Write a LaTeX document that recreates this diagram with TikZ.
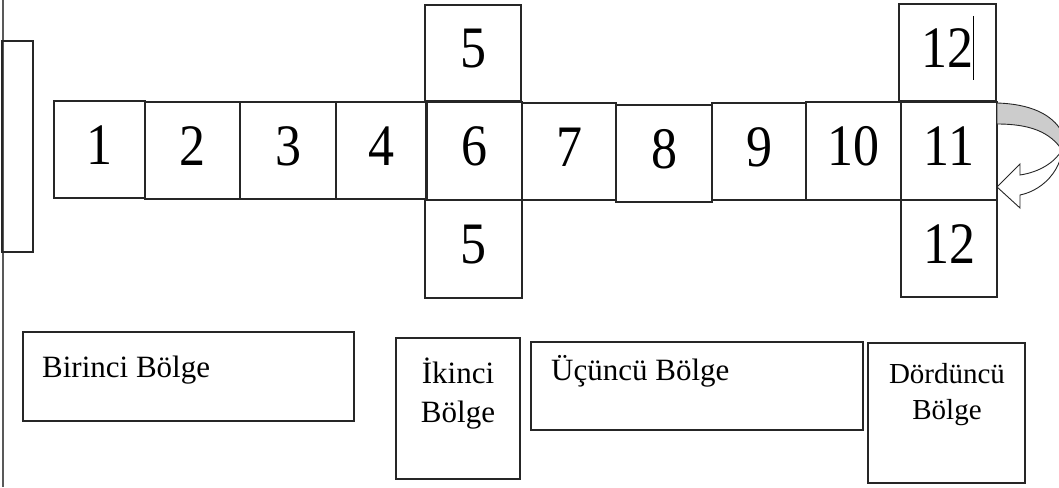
\documentclass[tikz,border=0pt]{standalone}
\usepackage{fontspec}
\setmainfont{Liberation Serif}
\usepackage{graphicx}
\usetikzlibrary{fit}
\definecolor{edge}{HTML}{262626}
\definecolor{face}{HTML}{CCCCCC}
\tikzset{
  cell/.style={draw=edge, line width=1.1pt, inner sep=0pt, outer sep=0pt},
  digit/.style={inner sep=0pt, anchor=base, font=\fontsize{52}{52}\selectfont},
  lbl/.style={inner sep=0pt, font=\fontsize{31}{31}\selectfont},
  lbls/.style={inner sep=0pt, font=\fontsize{29}{29}\selectfont},
}
\newcommand{\dg}[1]{\scalebox{1}[1.13]{#1}}
\begin{document}
\begin{tikzpicture}[x=1pt,y=-1pt]
\useasboundingbox (0,0) rectangle (1059,487);
% wall
\coordinate (wt) at (3,0);
\coordinate (wb) at (3,487);
\draw[line width=1.4pt, draw=black!65] (wt) -- (wb);
\node[cell, fit={(2,41) (33,252)}] (door) {};
% main row
\node[cell, fit={(54,101) (145,198)}] (b1) {};
\node[cell, fit={(145,102) (240,199)}] (b2) {};
\node[cell, fit={(240,102) (336,199)}] (b3) {};
\node[cell, fit={(336,102) (426,199)}] (b4) {};
\node[cell, fit={(427,102) (522,200)}] (b6) {};
\node[cell, fit={(425,5) (521,101)}] (b5t) {};
\node[cell, fit={(425,200) (522,298)}] (b5b) {};
\node[cell, fit={(522,103) (616,200)}] (b7) {};
\node[cell, fit={(616,105) (712,202)}] (b8) {};
\node[cell, fit={(712,103) (806,200)}] (b9) {};
\node[cell, fit={(806,102) (901,200)}] (b10) {};
\node[cell, fit={(901,102) (997,200)}] (b11) {};
\node[cell, fit={(899,4) (996,101)}] (b12t) {};
\node[cell, fit={(901,200) (997,297)}] (b12b) {};
% digits
\node[digit] (t1) at ([yshift=-14.5pt]b1.center) {\dg{1}};
\node[digit] (t2) at ([yshift=-14.5pt]b2.center) {\dg{2}};
\node[digit] (t3) at ([yshift=-14.5pt]b3.center) {\dg{3}};
\node[digit] (t4) at ([yshift=-14.5pt]b4.center) {\dg{4}};
\node[digit] (t6) at ([yshift=-14.5pt]b6.center) {\dg{6}};
\node[digit] (t5t) at ([yshift=-14.5pt]b5t.center) {\dg{5}};
\node[digit] (t5b) at ([yshift=-14.5pt]b5b.center) {\dg{5}};
\node[digit] (t7) at ([yshift=-14.5pt]b7.center) {\dg{7}};
\node[digit] (t8) at ([yshift=-14.5pt]b8.center) {\dg{8}};
\node[digit] (t9) at ([yshift=-14.5pt]b9.center) {\dg{9}};
\node[digit] (t10) at ([yshift=-14.5pt]b10.center) {\dg{10}};
\node[digit] (t11) at ([yshift=-14.5pt]b11.center) {\dg{11}};
\node[digit] (t12t) at ([yshift=-14.5pt]b12t.center) {\dg{12}};
\node[digit] (t12b) at ([yshift=-14.5pt]b12b.center) {\dg{12}};
% text cursor after top 12
\coordinate (cur1) at (973,16);
\coordinate (cur2) at (973,80);
\draw[line width=0.8pt] (cur1) -- (cur2);
% curved U-turn arrow
\begin{scope}
\clip (0,0) rectangle (1059,487);
\draw[draw=edge, line width=0.9pt, fill=white]
  (1062,132) .. controls (1068,165) and (1045,190) .. (1020,195)
  -- (1020,208) -- (997,187) -- (1020,164) -- (1020,175)
  .. controls (1040,172) and (1055,162) .. (1062,150) -- cycle;
\draw[draw=edge, line width=0.9pt, fill=face]
  (997,103) .. controls (1030,104) and (1052,114) .. (1062,132)
  -- (1062,150)
  .. controls (1050,132) and (1030,124) .. (997,124) -- cycle;
\end{scope}
% region boxes
\node[cell, fit={(23,332) (354,421)}] (r1) {};
\node[cell, fit={(396,338) (520,479)}] (r2) {};
\node[cell, fit={(531,342) (863,430)}] (r3) {};
\node[cell, fit={(868,343) (1025,483)}] (r4) {};
\node[lbl, anchor=base west] (l1) at (42,377) {Birinci Bölge};
\node[lbl, anchor=base] (l2a) at (458,383) {İkinci};
\node[lbl, anchor=base] (l2b) at (458,422) {Bölge};
\node[lbl, anchor=base west] (l3) at (551,380) {Üçüncü Bölge};
\node[lbls, anchor=base] (l4a) at (947,383) {Dördüncü};
\node[lbls, anchor=base] (l4b) at (947,419) {Bölge};
\end{tikzpicture}
\end{document}
